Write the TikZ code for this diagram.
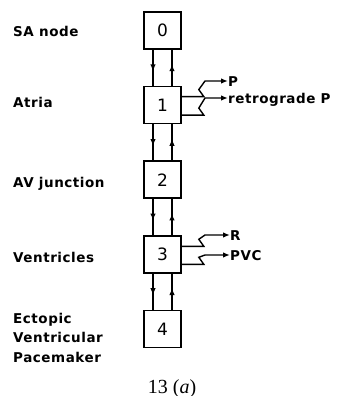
\documentclass[tikz,border=0pt]{standalone}
\usepackage{fontspec}
\setmainfont{Liberation Serif}
\setsansfont{DejaVu Sans}[LetterSpace=4]
\usetikzlibrary{arrows.meta, positioning, calc}

\begin{document}
\begin{tikzpicture}[
    x=1pt, y=-1pt,
    >={Latex[length=7pt,width=5.5pt]},
    state/.style={draw, line width=1.6pt, minimum size=37pt, inner sep=0pt,
                  font=\sffamily\fontsize{17}{17}\selectfont},
    part/.style={font=\sffamily\bfseries\fontsize{13.5}{19.5}\selectfont, inner sep=0pt,
                 anchor=base west, align=left},
    signal/.style={font=\sffamily\bfseries\fontsize{13.5}{15}\selectfont, inner sep=0pt,
                text height=10pt, text depth=0pt, anchor=base west},
    link/.style={line width=1.5pt},
    wave/.style={->, line width=1.4pt},
]
    \useasboundingbox (0,0) rectangle (340,396);

    \node[state] (s0) at (162.5,30.5) {0};
    \node[state, below=36pt of s0] (s1) {1};
    \node[state, below=36pt of s1] (s2) {2};
    \node[state, below=36pt of s2] (s3) {3};
    \node[state, below=36pt of s3] (s4) {4};

    % down and up links between neighbours, arrow tip in the middle
    \foreach \a/\b in {s0/s1, s1/s2, s2/s3, s3/s4} {
        \coordinate (dn1) at ([xshift=-9.5pt]\a.south);
        \coordinate (dn2) at ([xshift=-9.5pt]\b.north);
        \coordinate (up1) at ([xshift=9.5pt]\b.north);
        \coordinate (up2) at ([xshift=9.5pt]\a.south);
        \draw[link, ->] (dn1) -- ($(dn1)!0.6!(dn2)$);
        \draw[link] ($(dn1)!0.5!(dn2)$) -- (dn2);
        \draw[link, ->] (up1) -- ($(up1)!0.6!(up2)$);
        \draw[link] ($(up1)!0.5!(up2)$) -- (up2);
    }

    % Labels
    \node[part] (sa) at (13,37) {SA node};
    \node[part] (atria) at (13,107) {Atria};
    \node[part] (av) at (13,187) {AV junction};
    \node[part] (vent) at (13,262) {Ventricles};
    \node[part] (ectopic) at (13,362) {Ectopic\\Ventricular\\Pacemaker};

    % Outputs
    \node[signal] (p) at (228,86) {P};
    \node[signal] (retro) at (228,103) {retrograde P};
    \node[signal] (r) at (230,240) {R};
    \node[signal] (pvc) at (230,260) {PVC};

    \draw[wave] ($(s1.east)+(0,-8.5)$) -- ++(22,0) -- ++(-5,-7) -- ($(p.west)+(-23,0)$) -- (p.west);
    \draw[wave] ($(s1.east)+(0,10)$) -- ++(22,0) -- ++(-5,-7) -- ($(retro.west)+(-23,0)$) -- (retro.west);
    \draw[wave] ($(s3.east)+(0,-8)$) -- ++(22,0) -- ++(-5,-7) -- ($(r.west)+(-25,0)$) -- (r.west);
    \draw[wave] ($(s3.east)+(0,10)$) -- ++(22,0) -- ++(-5,-7) -- ($(pvc.west)+(-25,0)$) -- (pvc.west);

    \node[font=\fontsize{20}{20}\selectfont, anchor=base] (caption) at (172,393) {13 (\textit{a})};
\end{tikzpicture}
\end{document}
